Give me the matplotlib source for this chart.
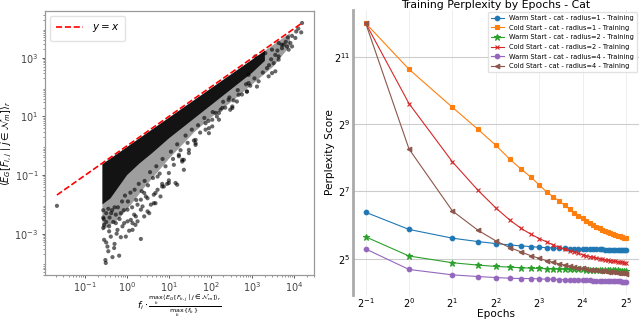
import numpy as np
import matplotlib.pyplot as plt
from matplotlib.ticker import NullLocator

# ---- left panel: scatter (log10 units) ----
# dense core of the cloud (outline)
core_lx = [-0.59, 3.30, 3.30, 3.0, 2.6, 2.2, 1.8, 1.4, 1.0, 0.6, 0.3, 0.0, -0.2, -0.4, -0.59]
core_ly = [-0.63, 3.24, 2.90, 2.50, 2.05, 1.6, 1.15, 0.7, 0.25, -0.25, -0.6, -1.0, -1.4, -1.8, -2.0]
# lighter fringe around it
halo_lx = [-0.59, 3.90, 3.90, 3.5, 3.0, 2.5, 2.0, 1.6, 1.3, 1.0, 0.7, 0.4, 0.1, -0.2, -0.59]
halo_ly = [-0.63, 3.84, 3.4, 2.7, 2.1, 1.5, 0.95, 0.45, 0.0, -0.45, -0.95, -1.45, -2.0, -2.5, -2.9]
# single points outside the core
pts_lx = [-1.68, -0.51, -0.35, -0.19, -0.47, -0.31, -0.55, -0.39, -0.15, -0.03,
          0.13, 0.33, 0.25, 0.09, 0.41, 0.49, 0.68, 0.57, 0.33, 0.80,
          1.00, 1.16, 0.88, 0.73, 0.64, 0.17, -0.07, -0.23, -0.43, -0.55,
          0.01, -0.15, 0.33, 0.49, 0.25, 1.20, 1.32, 1.36, 1.48, 1.64,
          1.60, 1.24, 0.84, 1.00, 0.73, 0.41, 0.96, 1.12, 1.32, 1.48,
          1.64, 1.96, 1.88, 2.04, 2.20, 2.12, 2.28, 2.52, 2.43, 2.67,
          2.87, 2.91, 0.64, 0.53, 0.68, 0.84, 0.45, 0.37, 0.21, 0.13,
          0.01, -0.11, -0.27, -0.43, 1.24, 1.00, 1.36, 4.19, 4.17, 4.03,
          3.91, 3.83, 3.87, 3.71, 3.63, 3.63, 3.51, 3.47, 3.55, 3.39,
          3.11, 2.87, 2.91, 2.63, 2.52, 2.47, 2.24, 2.20, 1.96, 2.04,
          1.88, 1.64, 3.07, 3.31, 3.47, 3.63, 3.75, 3.95, -0.50, -0.30,
          -0.45, -0.25, -0.56, -0.36, -0.52, 0.05, 0.20,
          -0.57, -0.57, -0.57, -0.50, -0.50, -0.45, -0.42, -0.38, -0.33, -0.30,
          -0.27, -0.22, -0.18, -0.12, -0.08, -0.05, 0.02, 0.08, 0.12, 0.18,
          0.22, 0.28, 0.35, 0.42, 0.50, 0.55, 0.62, 0.70, 0.78, 0.85,
          0.92, 1.05, 1.10, 1.20, 1.28, 1.40, 1.45, 1.55, 1.70, 1.75,
          1.85, 1.95, 2.05, 2.15, 2.30, 2.35, 2.45, 2.55, 2.65, 2.75,
          2.85, 2.95, 3.05, 3.15, 3.25, 3.35, 3.40, 3.45, 3.55, 3.60,
          3.70, 3.80, 3.85, 3.95, 4.05, 4.10]
pts_ly = [-2.05, -4.00, -3.80, -3.75, -3.44, -3.49, -3.21, -3.10, -3.12, -3.10,
          -2.87, -3.18, -2.58, -2.53, -2.41, -2.24, -1.96, -2.01, -2.18, -1.73,
          -1.27, -1.27, -1.39, -1.50, -1.67, -2.35, -2.64, -2.87, -2.92, -2.70,
          -2.18, -2.30, -1.84, -1.79, -2.01, -1.33, -0.54, -0.48, -0.25, 0.03,
          0.18, -0.31, -1.30, -1.18, -1.05, -1.61, -1.30, -0.65, -0.48, -0.14,
          0.09, 0.43, 0.55, 0.66, 0.89, 1.12, 1.29, 1.29, 1.57, 1.74,
          1.85, 2.14, -1.96, -2.30, -1.61, -1.39, -1.73, -2.07, -2.41, -2.64,
          -2.58, -2.75, -2.64, -2.75, -0.36, -0.93, -0.82, 4.19, 3.87, 3.68,
          3.51, 3.39, 3.28, 3.33, 3.05, 2.94, 2.82, 2.48, 2.54, 2.37,
          2.02, 1.85, 2.42, 1.51, 1.34, 1.23, 1.23, 1.12, 0.60, 0.89,
          0.77, 0.20, 3.05, 3.16, 3.28, 3.51, 3.45, 3.39, -3.30, -3.35,
          -3.60, -3.00, -2.50, -2.20, -3.90, -2.90, -2.70,
          -2.20, -2.45, -2.80, -2.30, -2.60, -2.15, -2.45, -2.30, -2.60, -2.10,
          -2.35, -2.10, -2.50, -1.90, -2.20, -1.70, -1.90, -1.60, -2.10, -1.50,
          -1.85, -1.30, -1.55, -1.20, -1.35, -0.90, -1.10, -0.70, -0.95, -0.45,
          -0.70, -0.20, -0.45, 0.05, -0.15, 0.35, 0.10, 0.55, 0.70, 0.45,
          0.95, 0.85, 1.15, 1.00, 1.50, 1.30, 1.65, 1.55, 1.90, 1.75,
          2.10, 2.05, 2.30, 2.20, 2.50, 2.65, 2.75, 2.95, 3.10, 3.25,
          3.45, 3.55, 3.70, 3.75, 3.90, 4.00]

# ---- right panel: training perplexity (values read on the log2 axis) ----
epochs = [0.5, 1, 2, 3, 4, 5, 6, 7, 8, 9, 10, 11, 12, 13, 14, 15, 16,
          17, 18, 19, 20, 21, 22, 23, 24, 25, 26, 27, 28, 29, 30, 31, 32]
warm_r1 = [6.38, 5.87, 5.61, 5.51, 5.45, 5.41, 5.38, 5.36, 5.34, 5.33, 5.32, 5.31, 5.31, 5.30, 5.30, 5.29, 5.29,
           5.29, 5.28, 5.28, 5.28, 5.28, 5.28, 5.27, 5.27, 5.27, 5.27, 5.27, 5.27, 5.27, 5.27, 5.27, 5.27]
cold_r1 = [12.0, 10.63, 9.5, 8.85, 8.37, 7.96, 7.66, 7.43, 7.19, 6.99, 6.84, 6.72, 6.59, 6.47, 6.37, 6.28, 6.2,
           6.13, 6.06, 6.0, 5.95, 5.9, 5.86, 5.82, 5.78, 5.75, 5.72, 5.7, 5.68, 5.66, 5.64, 5.63, 5.62]
warm_r2 = [5.65, 5.08, 4.88, 4.81, 4.77, 4.75, 4.73, 4.72, 4.71, 4.70, 4.70, 4.69, 4.69, 4.68, 4.68, 4.68, 4.68,
           4.67, 4.67, 4.67, 4.66, 4.66, 4.66, 4.66, 4.65, 4.65, 4.65, 4.65, 4.65, 4.64, 4.64, 4.64, 4.64]
cold_r2 = [12.0, 9.61, 7.88, 7.04, 6.51, 6.15, 5.90, 5.73, 5.60, 5.50, 5.41, 5.34, 5.28, 5.24, 5.20, 5.16, 5.12,
           5.09, 5.06, 5.04, 5.02, 5.00, 4.98, 4.97, 4.95, 4.94, 4.93, 4.92, 4.91, 4.90, 4.89, 4.88, 4.87]
warm_r4 = [5.29, 4.68, 4.52, 4.47, 4.44, 4.42, 4.41, 4.41, 4.40, 4.39, 4.39, 4.38, 4.38, 4.37, 4.37, 4.37, 4.36,
           4.36, 4.36, 4.35, 4.35, 4.35, 4.34, 4.34, 4.34, 4.34, 4.33, 4.33, 4.33, 4.33, 4.32, 4.32, 4.32]
cold_r4 = [12.0, 8.26, 6.42, 5.85, 5.53, 5.33, 5.20, 5.09, 5.01, 4.94, 4.89, 4.85, 4.81, 4.78, 4.75, 4.73, 4.71,
           4.69, 4.67, 4.66, 4.65, 4.64, 4.63, 4.62, 4.61, 4.60, 4.60, 4.59, 4.58, 4.58, 4.57, 4.57, 4.56]

series = [
    (warm_r1, 'Warm Start - cat - radius=1 - Training', 'C0', 'o'),
    (cold_r1, 'Cold Start - cat - radius=1 - Training', 'C1', 's'),
    (warm_r2, 'Warm Start - cat - radius=2 - Training', 'C2', '*'),
    (cold_r2, 'Cold Start - cat - radius=2 - Training', 'C3', 'x'),
    (warm_r4, 'Warm Start - cat - radius=4 - Training', 'C4', 'o'),
    (cold_r4, 'Cold Start - cat - radius=4 - Training', 'C5', '<'),
]

fig = plt.figure(figsize=(6.4, 3.19), dpi=100)

# ---------- left ----------
ax1 = fig.add_axes([0.0698, 0.138, 0.4213, 0.8275])
ax1.set_xscale('log')
ax1.set_yscale('log')
ax1.fill(10 ** np.array(halo_lx), 10 ** np.array(halo_ly), color='black', alpha=0.38, lw=0)
ax1.fill(10 ** np.array(core_lx), 10 ** np.array(core_ly), color='black', alpha=0.88, lw=0)
px = 10 ** np.array(pts_lx)
py = 10 ** np.array(pts_ly)
ax1.scatter(px, py, s=9, c='black', alpha=0.6, edgecolors='none')
lims = [px.min(), px.max()]
ax1.plot(lims, lims, 'r--', lw=1.2, label=r'$y = x$')
ax1.set_yticks([1e-3, 1e-1, 1e1, 1e3])
ax1.set_xticks([1e-1, 1, 1e1, 1e2, 1e3, 1e4])
ax1.tick_params(labelsize=7, colors='#444444', length=2.5, width=0.6, pad=2)
ax1.tick_params(axis='x', pad=1)
ax1.tick_params(which='minor', length=1.5, width=0.5, colors='#666666')
for s in ax1.spines.values():
    s.set_color('#999999')
    s.set_linewidth(0.9)
ax1.legend(loc='upper left', fontsize=7.5, handlelength=2.6, framealpha=0.8,
           edgecolor='#dddddd', borderpad=0.6)
ax1.set_ylabel(r'$\langle E_G[F_{i,j} \mid j \in \mathcal{N}_m] \rangle_r$', fontsize=7, labelpad=0)
ax1.set_xlabel(r'$f_i \cdot \frac{\max_k \langle E_G[F_{k,j} \mid j \in \mathcal{N}_m] \rangle_r}{\max_k \{f_k\}}$',
               fontsize=6.6, labelpad=-0.5)

# ---------- right ----------
ax2 = fig.add_axes([0.551, 0.0768, 0.4473, 0.891])
ax2.set_xscale('log', base=2)
ax2.set_yscale('log', base=2)
for vals, label, color, marker in series:
    ms = 4.5 if marker == '*' else 3.3
    ax2.plot(epochs, 2 ** np.array(vals), color=color, marker=marker, ms=ms,
             lw=0.8, mew=0.8, label=label)
ax2.set_xticks([0.5, 1, 2, 4, 8, 16, 32])
ax2.set_yticks([2 ** 5, 2 ** 7, 2 ** 9, 2 ** 11])
ax2.xaxis.set_minor_locator(NullLocator())
ax2.yaxis.set_minor_locator(NullLocator())
ax2.grid(True, axis='y', color='#cccccc', lw=0.8)
ax2.grid(True, axis='x', color='#eeeeee', lw=0.7)
ax2.set_axisbelow(True)
for name in ['top', 'right', 'bottom']:
    ax2.spines[name].set_visible(False)
ax2.spines['left'].set_color('#aaaaaa')
ax2.spines['left'].set_linewidth(2)
ax2.tick_params(length=0, labelsize=7, pad=2)
ax2.tick_params(axis='x', pad=1)
ax2.set_title('Training Perplexity by Epochs - Cat', fontsize=7.8, pad=1.5)
ax2.set_xlabel('Epochs', fontsize=7.6, labelpad=-0.5)
ax2.set_ylabel('Perplexity Score', fontsize=7.6, labelpad=-1)
ax2.legend(loc='upper right', fontsize=4.8, labelspacing=0.55, framealpha=0.85,
           edgecolor='#dddddd', borderaxespad=0.3)

fig.savefig('out.png', dpi=100)
